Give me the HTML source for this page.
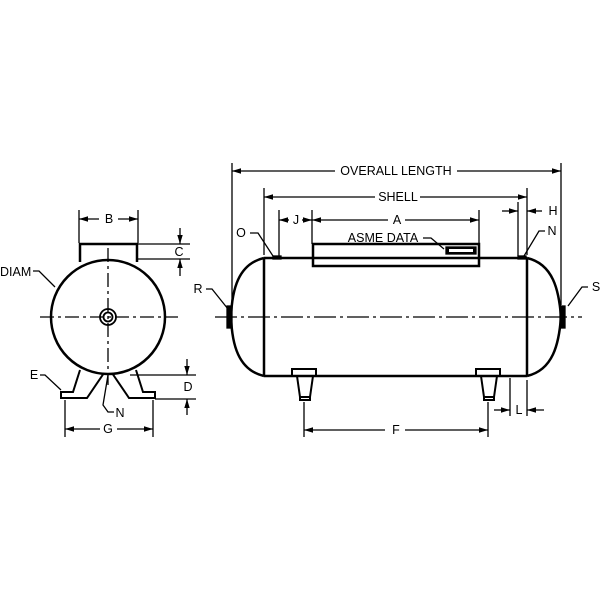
<!DOCTYPE html><html><head><style>body{margin:0;background:#fff}svg{display:block}text{font-family:"Liberation Sans",sans-serif;font-size:12.5px;fill:#000}</style></head><body>
<svg width="600" height="600" viewBox="0 0 600 600" xmlns="http://www.w3.org/2000/svg">
<defs><marker id="a" viewBox="0 0 10 6" refX="10" refY="3" markerWidth="7" markerHeight="4.5" orient="auto-start-reverse"><path d="M0,0L10,3L0,6z"/></marker></defs>
<g stroke="#000" fill="none" stroke-width="1.3">
<line x1="232" y1="163" x2="232" y2="305"/><line x1="561" y1="163" x2="561" y2="305"/>
<line x1="232" y1="171" x2="335" y2="171" marker-start="url(#a)"/><line x1="457" y1="171" x2="561" y2="171" marker-end="url(#a)"/>
<line x1="264" y1="188" x2="264" y2="255"/><line x1="527" y1="188" x2="527" y2="255"/>
<line x1="264" y1="197" x2="375" y2="197" marker-start="url(#a)"/><line x1="420" y1="197" x2="527" y2="197" marker-end="url(#a)"/>
<line x1="279" y1="210" x2="279" y2="256"/><line x1="312" y1="210" x2="312" y2="244"/><line x1="479" y1="210" x2="479" y2="244"/><line x1="518" y1="202" x2="518" y2="256"/>
<line x1="289" y1="220" x2="279" y2="220" marker-end="url(#a)"/><line x1="302" y1="220" x2="312" y2="220" marker-end="url(#a)"/>
<line x1="312" y1="220" x2="388" y2="220" marker-start="url(#a)"/><line x1="405" y1="220" x2="479" y2="220" marker-end="url(#a)"/>
<line x1="502" y1="211" x2="518" y2="211" marker-end="url(#a)"/><line x1="542" y1="211" x2="527" y2="211" marker-end="url(#a)"/>
<path d="M250,233h8l15,23"/><path d="M545,231h-6l-15,25"/><path d="M206,289h6l16,20"/><path d="M588,287h-6l-14,19"/><path d="M423,238h8l13,11"/>
<g stroke-width="2.5"><path d="M264,258H527M264,376H527M264,258V376M527,258V376"/>
<path d="M264,258C238,264 232,290 231,317C232,344 238,370 264,376"/><path d="M527,258C553,264 559,290 561,317C559,344 553,370 527,376"/>
<rect x="313" y="244" width="166" height="22"/></g>
<rect x="446" y="247" width="30" height="7" fill="#000"/><rect x="449" y="249" width="24" height="3" fill="#fff" stroke="none"/>
<rect x="227" y="306" width="5" height="22" fill="#000"/><rect x="560" y="306" width="5" height="22" fill="#000"/>
<rect x="273" y="256" width="8" height="3" fill="#000"/><rect x="518" y="256" width="8" height="3" fill="#000"/>
<line x1="215" y1="317" x2="582" y2="317" stroke-dasharray="22,4,3,4"/>
<g stroke-width="2"><path d="M292,376v-7h24v7M297,376l3,21h10l3,-21M300,397v3h10v-3"/><path d="M476,376v-7h24v7M481,376l3,21h10l3,-21M484,397v3h10v-3"/></g>
<line x1="304" y1="402" x2="304" y2="437"/><line x1="488" y1="402" x2="488" y2="437"/>
<line x1="304" y1="430" x2="385" y2="430" marker-start="url(#a)"/><line x1="405" y1="430" x2="488" y2="430" marker-end="url(#a)"/>
<line x1="510" y1="378" x2="510" y2="416"/><line x1="527" y1="380" x2="527" y2="416"/>
<line x1="494" y1="410" x2="510" y2="410" marker-end="url(#a)"/><line x1="544" y1="410" x2="527" y2="410" marker-end="url(#a)"/>
<circle cx="108" cy="317" r="57" stroke-width="2.5"/>
<path d="M80,262V244H137V262" stroke-width="2.5"/>
<line x1="79" y1="210" x2="79" y2="243"/><line x1="138" y1="210" x2="138" y2="243"/>
<line x1="79" y1="219" x2="99" y2="219" marker-start="url(#a)"/><line x1="118" y1="219" x2="138" y2="219" marker-end="url(#a)"/>
<line x1="137" y1="244" x2="190" y2="244"/><line x1="137" y1="259" x2="190" y2="259"/>
<line x1="180" y1="228" x2="180" y2="244" marker-end="url(#a)"/><line x1="180" y1="276" x2="180" y2="259" marker-end="url(#a)"/>
<path d="M33,271h6l16,16"/><path d="M40,375h5l16,15"/><path d="M114,412h-6l-5,-7l5,-30"/>
<line x1="40" y1="317" x2="178" y2="317" stroke-dasharray="14,4,3,4"/><line x1="108" y1="248" x2="108" y2="385" stroke-dasharray="14,4,3,4"/>
<circle cx="108" cy="317" r="8" stroke-width="1.8"/><circle cx="108" cy="317" r="4.5" stroke-width="1.8"/>
<g stroke-width="2"><path d="M80,370l-7,22h-12v6h26l17,-25"/><path d="M136,370l7,22h12v6h-26l-17,-25"/></g>
<line x1="130" y1="375" x2="196" y2="375"/><line x1="155" y1="399" x2="196" y2="399"/>
<line x1="187" y1="359" x2="187" y2="375" marker-end="url(#a)"/><line x1="187" y1="415" x2="187" y2="399" marker-end="url(#a)"/>
<line x1="65" y1="400" x2="65" y2="437"/><line x1="153" y1="400" x2="153" y2="437"/>
<line x1="65" y1="429" x2="100" y2="429" marker-start="url(#a)"/><line x1="117" y1="429" x2="153" y2="429" marker-end="url(#a)"/>
</g>
<text x="396" y="175" text-anchor="middle">OVERALL LENGTH</text>
<text x="398" y="201" text-anchor="middle">SHELL</text>
<text x="296" y="224" text-anchor="middle">J</text><text x="397" y="224" text-anchor="middle">A</text>
<text x="553" y="215" text-anchor="middle">H</text>
<text x="383" y="242" text-anchor="middle">ASME DATA</text>
<text x="241" y="237" text-anchor="middle">O</text><text x="552" y="235" text-anchor="middle">N</text>
<text x="198" y="293" text-anchor="middle">R</text><text x="596" y="291" text-anchor="middle">S</text>
<text x="519" y="414" text-anchor="middle">L</text><text x="396" y="434" text-anchor="middle">F</text>
<text x="109" y="223" text-anchor="middle">B</text><text x="179" y="256" text-anchor="middle">C</text>
<text x="0" y="276">DIAM</text><text x="34" y="379" text-anchor="middle">E</text>
<text x="188" y="391" text-anchor="middle">D</text><text x="120" y="417" text-anchor="middle">N</text>
<text x="108" y="433" text-anchor="middle">G</text>
</svg></body></html>
